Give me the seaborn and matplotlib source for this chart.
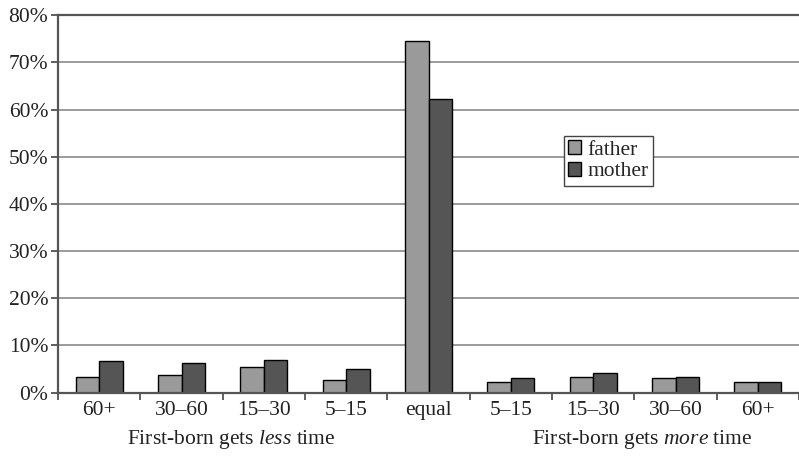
import matplotlib
matplotlib.use("Agg")
import matplotlib.pyplot as plt
import seaborn as sns
import pandas as pd
from matplotlib.ticker import FixedLocator, FuncFormatter

# Data (percent of families)
categories = ["less_60+", "less_30-60", "less_15-30", "less_5-15", "equal",
              "more_5-15", "more_15-30", "more_30-60", "more_60+"]
tick_labels = ["60+", "30–60", "15–30", "5–15", "equal",
               "5–15", "15–30", "30–60", "60+"]
father = [3.4, 3.8, 5.4, 2.7, 74.5, 2.3, 3.3, 3.1, 2.3]
mother = [6.7, 6.2, 6.9, 5.1, 62.3, 3.1, 4.2, 3.3, 2.3]
series = ["father", "mother"]
group_labels = ["First-born gets $\\mathit{less}$ time",
                "First-born gets $\\mathit{more}$ time"]
y_ticks = [0, 10, 20, 30, 40, 50, 60, 70, 80]

df = pd.DataFrame({
    "Category": categories * 2,
    "Parent": [series[0]] * len(categories) + [series[1]] * len(categories),
    "Share": father + mother,
})

sns.set_theme(style="white")
plt.rcParams["font.family"] = ["Liberation Serif", "DejaVu Serif"]
plt.rcParams["mathtext.fontset"] = "custom"
plt.rcParams["mathtext.rm"] = "Liberation Serif"
plt.rcParams["mathtext.it"] = "Liberation Serif:italic"

FS = 15.5

fig = plt.figure(figsize=(7.99, 4.59), dpi=100)
ax = fig.add_axes([0.0726, 0.1445, 0.9274, 0.8225])

colors = {"father": "#9a9a9a", "mother": "#555555"}
sns.barplot(data=df, x="Category", y="Share", hue="Parent", order=categories,
            hue_order=series, palette=colors, width=0.57, errorbar=None,
            edgecolor="black", linewidth=1.0, saturation=1, ax=ax)

ax.set_xlim(-0.5, len(categories) - 0.5)
ax.set_ylim(0, 80)
ax.set_yticks(y_ticks)
ax.yaxis.set_major_formatter(FuncFormatter(lambda v, _: f"{v:.0f}%"))
ax.yaxis.grid(True, color="#8a8a8a", linewidth=1.2)
ax.set_axisbelow(True)

ax.set_xticks(range(len(categories)))
ax.set_xticklabels(tick_labels)
ax.xaxis.set_minor_locator(FixedLocator([i - 0.5 for i in range(len(categories) + 1)]))
ax.tick_params(axis="x", which="major", length=0, pad=6, labelsize=FS, colors="#222222")
ax.tick_params(axis="x", which="minor", length=5, width=1.2, color="#444444", direction="out", bottom=True)
ax.tick_params(axis="y", which="major", length=5, width=1.2, color="#444444", direction="out",
               left=True, labelsize=FS, labelcolor="#222222", pad=2)

ax.spines["right"].set_visible(False)
for side in ["left", "bottom", "top"]:
    ax.spines[side].set_color("#555555")
    ax.spines[side].set_linewidth(1.6)

ax.set_xlabel("")
ax.set_ylabel("")

# group captions under the category labels
ax.text(1.6, -0.125, group_labels[0], transform=ax.get_xaxis_transform(),
        ha="center", va="center", fontsize=FS, color="#222222")
ax.text(6.6, -0.125, group_labels[1], transform=ax.get_xaxis_transform(),
        ha="center", va="center", fontsize=FS, color="#222222")

leg = ax.legend(loc="upper left", bbox_to_anchor=(0.683, 0.68), frameon=True,
                fancybox=False, framealpha=1, edgecolor="#444444", fontsize=FS,
                handlelength=0.6, handleheight=0.6, handletextpad=0.3,
                borderpad=0.2, labelspacing=0.1, borderaxespad=0)
leg.get_frame().set_linewidth(1.0)

plt.savefig("out.png", dpi=100)
